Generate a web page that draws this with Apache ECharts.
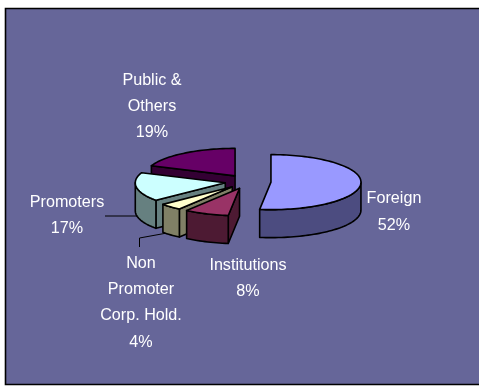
<!DOCTYPE html>
<html>
<head>
<meta charset="utf-8">
<style>html,body{margin:0;padding:0;background:#fff}#chart{width:479px;height:386px}</style>
<script src="https://cdn.jsdelivr.net/npm/echarts@6/dist/echarts.min.js"></script>
</head>
<body>
<div id="chart"></div>
<script>
// Shareholding split, clockwise from twelve o'clock.
const sliceNames = ['Foreign', 'Institutions', 'Non\nPromoter\nCorp. Hold.', 'Promoters', 'Public &\nOthers'];
const sliceValues = [52, 8, 4, 17, 19];
const topColors = ['#9999FF', '#993366', '#FFFFCC', '#CCFFFF', '#660066'];
const sideColors = ['#4C4C80', '#4D1A33', '#808066', '#668080', '#330033'];

// Tilted-pie projection: ellipse radii, wall height and how far each slice is pulled out.
const pie = { cx: 248, cy: 181.7, rx: 90, ry: 27.5, depth: 28, explode: 23 };
const labelAnchors = [[394, 198.5], [248, 265], [141, 263], [67, 202], [152, 80]];
const lineHeight = 26.4;
const total = sliceValues.reduce((a, b) => a + b, 0);
const outline = { stroke: '#000', lineWidth: 1.6, lineJoin: 'round' };

function rimPoint(c, deg, dy) {
  const t = deg * Math.PI / 180;
  return [c[0] + pie.rx * Math.sin(t), c[1] - pie.ry * Math.cos(t) + (dy || 0)];
}
function arc(c, from, to, dy) {
  const pts = [];
  const steps = Math.max(2, Math.ceil((to - from) / 2));
  for (let i = 0; i <= steps; i++) pts.push(rimPoint(c, from + (to - from) * i / steps, dy));
  return pts;
}
function poly(points, fill) {
  return { type: 'polygon', shape: { points }, style: Object.assign({ fill }, outline) };
}

function renderSlice(params, api) {
  const i = api.value(1);
  const before = sliceValues.slice(0, i).reduce((a, b) => a + b, 0);
  const start = before / total * 360;
  const end = (before + api.value(0)) / total * 360;
  const mid = (start + end) / 2 * Math.PI / 180;
  const c = [
    pie.cx + pie.explode * Math.sin(mid),
    pie.cy - pie.explode * (pie.ry / pie.rx) * Math.cos(mid)
  ];
  const children = [];
  const side = sideColors[i];

  // Radial wall on the leading edge, visible when it faces the viewer.
  if (Math.sin(start * Math.PI / 180) < 0) {
    const p = rimPoint(c, start);
    children.push(poly([c, p, [p[0], p[1] + pie.depth], [c[0], c[1] + pie.depth]], side));
  }
  // Outer wall, only the front half of the ellipse.
  const a0 = Math.max(start, 90), a1 = Math.min(end, 270);
  if (a1 > a0) {
    children.push(poly(arc(c, a0, a1).concat(arc(c, a0, a1, pie.depth).reverse()), side));
  }
  // Top face.
  children.push(poly([c].concat(arc(c, start, end)), topColors[i]));
  return { type: 'group', children };
}

function renderLabels(params, api) {
  const i = api.value(1);
  const lines = sliceNames[i].split('\n').concat([api.value(0) + '%']);
  return {
    type: 'group',
    children: lines.map((text, k) => ({
      type: 'text',
      x: labelAnchors[i][0],
      y: labelAnchors[i][1] + k * lineHeight,
      scaleX: 0.95,
      style: {
        text,
        x: 0,
        y: 0,
        fill: '#fff',
        font: '17px "Liberation Sans", Arial, sans-serif',
        align: 'center',
        verticalAlign: 'middle'
      }
    }))
  };
}

// Later slices sit behind earlier ones, so they are painted first.
const rows = sliceValues.map((v, i) => [v, i]);
const paintRows = rows.slice().reverse();

const chart = echarts.init(document.getElementById('chart'), null, { renderer: 'canvas' });
chart.setOption({
  animation: false,
  backgroundColor: '#fff',
  graphic: [
    { type: 'rect', z: 0, shape: { x: 5.5, y: 8.5, width: 490, height: 376 },
      style: { fill: '#666699', stroke: '#000', lineWidth: 1.6 } },
    { type: 'polyline', z: 1, shape: { points: [[105, 216], [137, 216]] },
      style: { stroke: '#000', lineWidth: 1, fill: null } },
    { type: 'polyline', z: 1, shape: { points: [[139.5, 247], [139.5, 238], [167, 233]] },
      style: { stroke: '#000', lineWidth: 1, fill: null } }
  ],
  series: [
    { type: 'custom', coordinateSystem: 'none', z: 5, silent: true,
      renderItem: renderSlice, data: paintRows },
    { type: 'custom', coordinateSystem: 'none', z: 6, silent: true,
      renderItem: renderLabels, data: rows }
  ]
});
</script>
</body>
</html>
